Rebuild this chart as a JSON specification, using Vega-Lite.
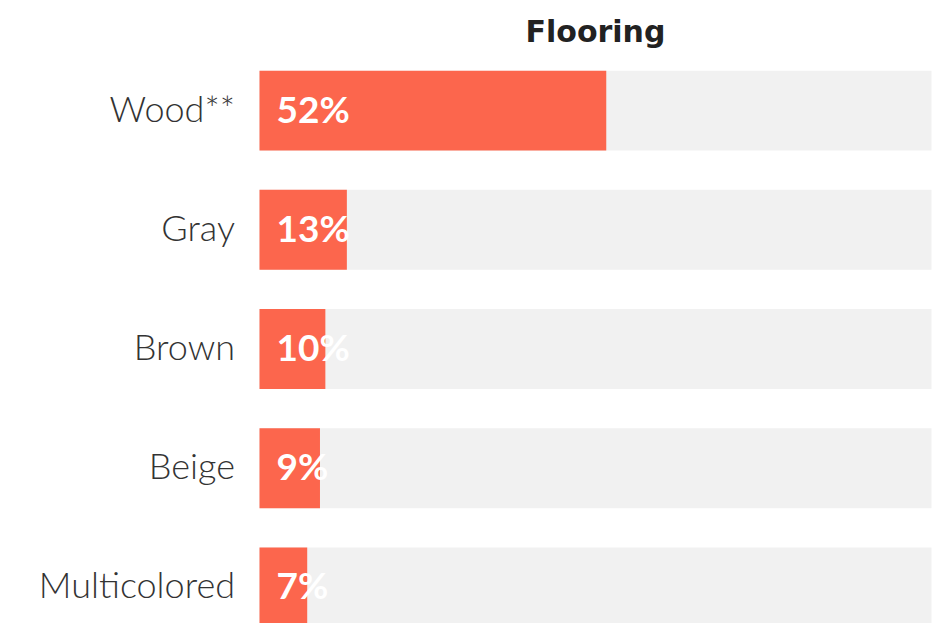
{
  "$schema": "https://vega.github.io/schema/vega-lite/v6.json",
  "autosize": "none",
  "width": 672,
  "height": 596,
  "padding": {"left": 259.5, "top": 51, "right": 12.5, "bottom": 0},
  "background": "white",
  "title": {
    "text": "Flooring",
    "font": "DejaVu Sans",
    "fontSize": 30,
    "fontWeight": "bold",
    "color": "#222222",
    "anchor": "middle",
    "frame": "group",
    "offset": 3
  },
  "data": {
    "values": [
      {"category": "Wood**", "value": 51.6, "label": "52%"},
      {"category": "Gray", "value": 13, "label": "13%"},
      {"category": "Brown", "value": 9.8, "label": "10%"},
      {"category": "Beige", "value": 9, "label": "9%"},
      {"category": "Multicolored", "value": 7.1, "label": "7%"}
    ]
  },
  "config": {"view": {"stroke": null}},
  "encoding": {
    "y": {
      "field": "category",
      "type": "nominal",
      "sort": null,
      "scale": {"paddingInner": 0.33, "paddingOuter": 0.165},
      "axis": {
        "title": null,
        "ticks": false,
        "domain": false,
        "labelPadding": 25,
        "labelFont": "Lato",
        "labelFontSize": 36,
        "labelFontWeight": 300,
        "labelColor": "#333333",
        "labelLimit": 300
      }
    }
  },
  "layer": [
    {
      "mark": {"type": "bar", "color": "#F1F1F1"},
      "encoding": {
        "x": {"datum": 100, "type": "quantitative", "scale": {"domain": [0, 100]}, "axis": null}
      }
    },
    {
      "mark": {"type": "bar", "color": "#FC664D"},
      "encoding": {
        "x": {"field": "value", "type": "quantitative", "scale": {"domain": [0, 100]}, "axis": null}
      }
    },
    {
      "mark": {"type": "text", "align": "left", "baseline": "middle", "dx": 17, "dy": 1, "font": "Lato", "fontSize": 37, "fontWeight": "bold", "color": "white"},
      "encoding": {
        "x": {"datum": 0, "type": "quantitative"},
        "text": {"field": "label"}
      }
    }
  ]
}
